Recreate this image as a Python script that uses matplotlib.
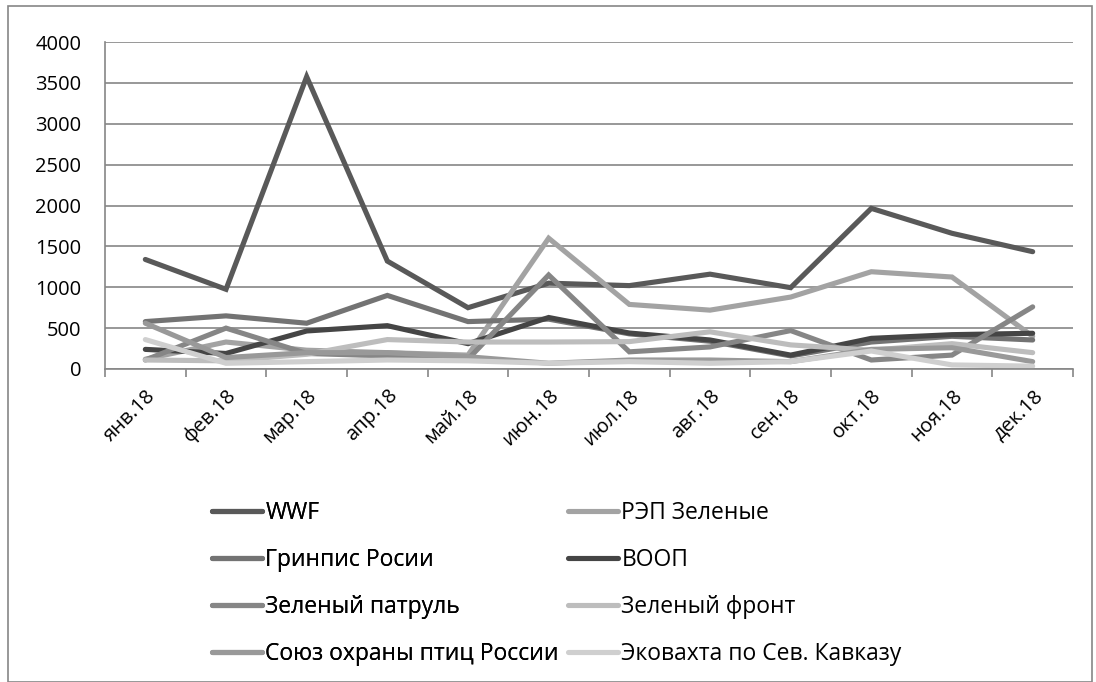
import matplotlib
matplotlib.use('Agg')
import matplotlib.pyplot as plt
from matplotlib.patches import Rectangle

plt.rcParams['font.family'] = ['Open Sans', 'DejaVu Sans']

# --- data ---
months = ['янв.18', 'фев.18', 'мар.18', 'апр.18', 'май.18', 'июн.18',
          'июл.18', 'авг.18', 'сен.18', 'окт.18', 'ноя.18', 'дек.18']

wwf = [1340, 975, 3575, 1320, 750, 1050, 1020, 1160, 995, 1965, 1660, 1435]
rep_green = [120, 330, 230, 200, 170, 1600, 790, 720, 880, 1190, 1125, 400]
greenpeace = [580, 650, 560, 900, 580, 610, 430, 340, 160, 330, 400, 355]
voop = [240, 190, 465, 530, 310, 630, 440, 355, 170, 375, 420, 437]
green_patrol = [110, 500, 190, 160, 120, 1150, 210, 270, 470, 110, 170, 760]
green_front = [110, 100, 180, 360, 330, 330, 335, 455, 295, 230, 310, 200]
bird_union = [560, 140, 200, 200, 150, 70, 110, 110, 90, 240, 260, 90]
ecowatch = [360, 70, 90, 110, 100, 70, 90, 70, 90, 220, 50, 35]

names = ['WWF', 'РЭП Зеленые', 'Гринпис Росии', 'ВООП', 'Зеленый патруль',
         'Зеленый фронт', 'Союз охраны птиц России', 'Эковахта по Сев. Кавказу']
series = [wwf, rep_green, greenpeace, voop, green_patrol, green_front, bird_union, ecowatch]
colors = ['#595959', '#a3a3a3', '#737373', '#454545', '#868686',
          '#bdbdbd', '#999999', '#cfcfcf']

grid_col = '#868686'
W, H = 1096, 682

fig = plt.figure(figsize=(W / 100, H / 100), dpi=100)
ax = fig.add_axes([105 / W, 1 - 369 / H, 968 / W, 327 / H])

x = list(range(len(months)))
lines = []
for name, vals, c in zip(names, series, colors):
    ln, = ax.plot(x, vals, color=c, lw=3.7, solid_capstyle='round',
                  solid_joinstyle='miter', label=name)
    lines.append(ln)

ax.set_xlim(-0.5, 11.5)
ax.set_ylim(0, 4000)
ax.set_yticks(range(0, 4001, 500))
ax.yaxis.grid(True, color=grid_col, lw=1.2)
ax.set_axisbelow(True)

for side in ['top', 'right']:
    ax.spines[side].set_visible(False)
for side in ['left', 'bottom']:
    ax.spines[side].set_color(grid_col)
    ax.spines[side].set_linewidth(1.2)

ax.tick_params(axis='y', length=0, labelsize=14.5, pad=17)
# category labels at centres, tick marks at the boundaries
ax.set_xticks(x)
ax.set_xticklabels(months, rotation=45, ha='right', va='top',
                   rotation_mode='anchor', fontsize=14.5)
ax.tick_params(axis='x', which='major', length=0, pad=12)
ax.set_xticks([i - 0.5 for i in range(len(months) + 1)], minor=True)
ax.tick_params(axis='x', which='minor', length=6, width=1.2, color=grid_col)

# legend: two columns filled row by row, as in the reference
leg_kw = dict(loc='upper left', frameon=False, fontsize=16.5, handlelength=2.2,
              handletextpad=0.13, labelspacing=1.0, borderpad=0, borderaxespad=0)
leg_left = fig.legend(handles=lines[0::2], bbox_to_anchor=(212 / W, 1 - 501 / H), **leg_kw)
fig.legend(handles=lines[1::2], bbox_to_anchor=(568 / W, 1 - 501 / H), **leg_kw)
fig.add_artist(leg_left)

fig.patches.append(Rectangle((8 / W, 0), 1084 / W, 1 - 6 / H,
                             transform=fig.transFigure, fill=False,
                             edgecolor=grid_col, lw=1.2))

fig.savefig('out.png', dpi=100, facecolor='white')
plt.close(fig)
